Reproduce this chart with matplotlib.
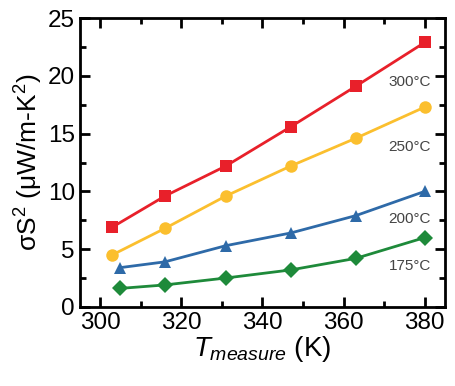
import matplotlib
matplotlib.use('Agg')
import matplotlib.pyplot as plt
from matplotlib.ticker import MultipleLocator

# Data
t_300 = [303, 316, 331, 347, 363, 380]
pf_300 = [6.9, 9.6, 12.2, 15.6, 19.1, 22.9]
t_250 = [303, 316, 331, 347, 363, 380]
pf_250 = [4.5, 6.8, 9.6, 12.2, 14.6, 17.3]
t_200 = [305, 316, 331, 347, 363, 380]
pf_200 = [3.4, 3.9, 5.3, 6.4, 7.9, 10.0]
t_175 = [305, 316, 331, 347, 363, 380]
pf_175 = [1.6, 1.9, 2.5, 3.2, 4.2, 6.0]

labels = ['300\u00b0C', '250\u00b0C', '200\u00b0C', '175\u00b0C']
label_y = [19.5, 13.8, 7.6, 3.5]

plt.rcParams['font.family'] = ['Liberation Sans', 'DejaVu Sans']
plt.rcParams['mathtext.fontset'] = 'custom'
plt.rcParams['mathtext.rm'] = 'Liberation Sans'
plt.rcParams['mathtext.it'] = 'Liberation Sans:italic'

fig = plt.figure(figsize=(4.56, 3.86), dpi=100)
ax = fig.add_axes([0.175, 0.205, 0.801, 0.748])

series = [
    (t_300, pf_300, '#e8202a', 's', 8),
    (t_250, pf_250, '#fbbf2e', 'o', 9),
    (t_200, pf_200, '#2e6aa8', '^', 9),
    (t_175, pf_175, '#1e8a3a', 'D', 8),
]
for x, y, c, m, ms in series:
    ax.plot(x, y, color=c, marker=m, markersize=ms, linewidth=2, markeredgewidth=0)

for lab, ly in zip(labels, label_y):
    ax.text(381.5, ly, lab, ha='right', va='center', fontsize=11, color='#444444')

ax.set_xlim(295, 385)
ax.set_ylim(0, 25)
ax.xaxis.set_major_locator(MultipleLocator(20))
ax.xaxis.set_minor_locator(MultipleLocator(10))
ax.yaxis.set_major_locator(MultipleLocator(5))
ax.yaxis.set_minor_locator(MultipleLocator(2.5))
ax.tick_params(which='both', direction='in', top=True, right=True, width=2, labelsize=17.5)
ax.tick_params(which='major', length=7)
ax.tick_params(which='minor', length=4)
for s in ax.spines.values():
    s.set_linewidth(2)

ax.set_xlabel(r'$T_{measure}$ (K)', fontsize=20, labelpad=0)
ax.set_ylabel('\u03c3S$^2$ (\u03bcW/m-K$^2$)', fontsize=19, labelpad=2)

fig.savefig('out.png', dpi=100)
